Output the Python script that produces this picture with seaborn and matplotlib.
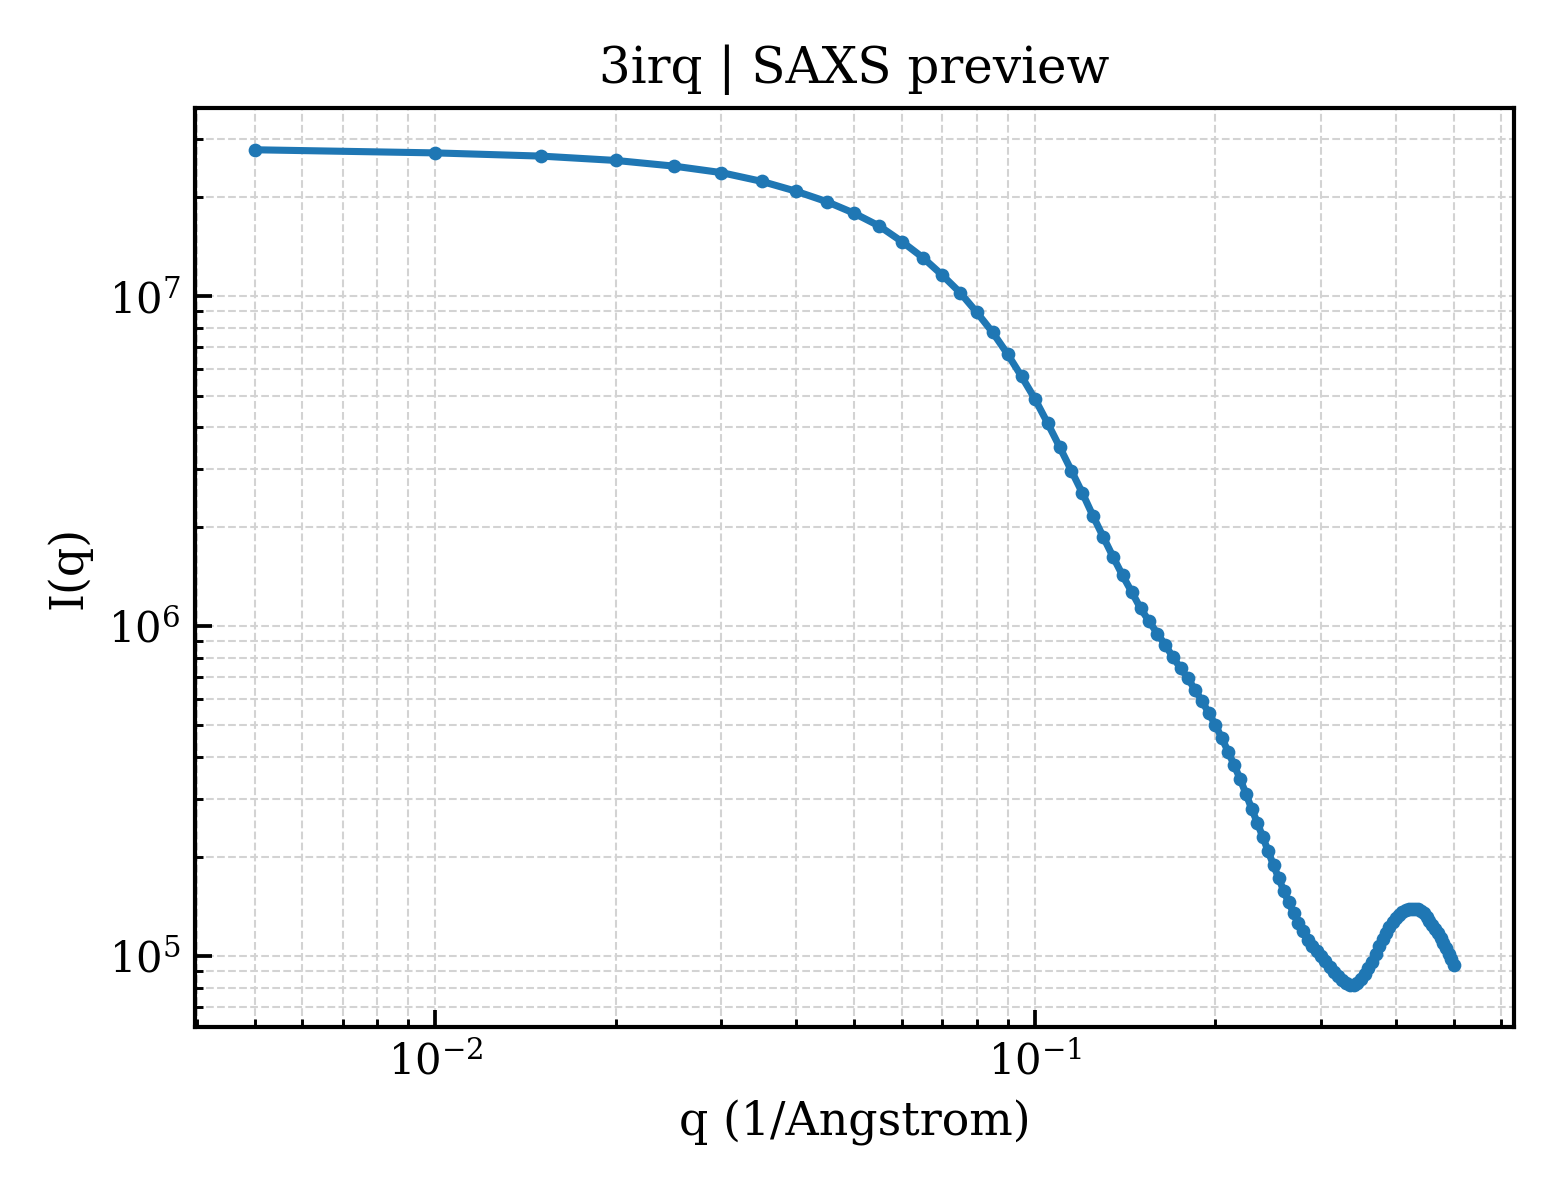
import numpy as np
import pandas as pd
import matplotlib
matplotlib.use("Agg")
import matplotlib.pyplot as plt
import seaborn as sns

# ---- data ----
q_values = [
    0.005, 0.010, 0.015, 0.020, 0.025, 0.030, 0.035, 0.040, 0.045, 0.050,
    0.055, 0.060, 0.065, 0.070, 0.075, 0.080, 0.085, 0.090, 0.095, 0.100,
    0.105, 0.110, 0.115, 0.120, 0.125, 0.130, 0.135, 0.140, 0.145, 0.150,
    0.155, 0.160, 0.165, 0.170, 0.175, 0.180, 0.185, 0.190, 0.195, 0.200,
    0.205, 0.210, 0.215, 0.220, 0.225, 0.230, 0.235, 0.240, 0.245, 0.250,
    0.255, 0.260, 0.265, 0.270, 0.275, 0.280, 0.285, 0.290, 0.295, 0.300,
    0.305, 0.310, 0.315, 0.320, 0.325, 0.330, 0.335, 0.340, 0.345, 0.350,
    0.355, 0.360, 0.365, 0.370, 0.375, 0.380, 0.385, 0.390, 0.395, 0.400,
    0.405, 0.410, 0.415, 0.420, 0.425, 0.430, 0.435, 0.440, 0.445, 0.450,
    0.455, 0.460, 0.465, 0.470, 0.475, 0.480, 0.485, 0.490, 0.495, 0.500,
]
intensity = [
    2.78e7, 2.72e7, 2.66e7, 2.58e7, 2.48e7, 2.37e7, 2.23e7, 2.08e7, 1.934e7, 1.783e7,
    1.632e7, 1.464e7, 1.31e7, 1.16e7, 1.026e7, 8.93e6, 7.77e6, 6.68e6, 5.71e6, 4.88e6,
    4.12e6, 3.485e6, 2.96e6, 2.53e6, 2.155e6, 1.862e6, 1.62e6, 1.424e6, 1.269e6, 1.132e6,
    1.034e6, 9.49e5, 8.75e5, 8.03e5, 7.44e5, 6.94e5, 6.39e5, 5.92e5, 5.44e5, 5.01e5,
    4.57e5, 4.16e5, 3.78e5, 3.43e5, 3.09e5, 2.785e5, 2.527e5, 2.287e5, 2.074e5, 1.881e5,
    1.722e5, 1.573e5, 1.452e5, 1.349e5, 1.259e5, 1.188e5, 1.12e5, 1.072e5, 1.034e5, 9.97e4,
    9.62e4, 9.28e4, 8.96e4, 8.70e4, 8.47e4, 8.30e4, 8.17e4, 8.15e4, 8.26e4, 8.49e4,
    8.83e4, 9.22e4, 9.60e4, 1.014e5, 1.072e5, 1.126e5, 1.176e5, 1.224e5, 1.267e5, 1.303e5,
    1.331e5, 1.357e5, 1.375e5, 1.386e5, 1.392e5, 1.390e5, 1.383e5, 1.365e5, 1.345e5, 1.315e5,
    1.278e5, 1.241e5, 1.207e5, 1.172e5, 1.136e5, 1.095e5, 1.057e5, 1.016e5, 9.77e4, 9.39e4,
]
title_text = "3irq | SAXS preview"
x_label = "q (1/Angstrom)"
y_label = "I(q)"

df = pd.DataFrame({"q": q_values, "I": intensity})

sns.set_style("white")
plt.rcParams["font.family"] = ["DejaVu Serif"]
plt.rcParams["mathtext.fontset"] = "dejavuserif"
plt.rcParams["text.color"] = "black"
plt.rcParams["axes.labelcolor"] = "black"
plt.rcParams["xtick.color"] = "black"
plt.rcParams["ytick.color"] = "black"

fig = plt.figure(figsize=(5.2, 4.0), dpi=300)
ax = fig.add_axes([0.125, 0.1442, 0.8455, 0.7658])

sns.lineplot(data=df, x="q", y="I", ax=ax, color="#1f77b4", linewidth=1.7,
             marker="o", markersize=3.3, markeredgewidth=0)

ax.set_xscale("log")
ax.set_yscale("log")
ax.margins(0.05)

ax.grid(True, which="both", linestyle="--", linewidth=0.5, color="#d3d3d3")
ax.set_axisbelow(True)

for s in ax.spines.values():
    s.set_linewidth(1.0)
    s.set_color("black")
ax.tick_params(which="both", direction="in", top=False, right=False,
               bottom=True, left=True, colors="black", labelcolor="black",
               labelsize=10)
ax.tick_params(which="major", length=4, width=0.9)
ax.tick_params(which="minor", length=2, width=0.7)

ax.set_title(title_text, fontsize=12, color="black")
ax.set_xlabel(x_label, fontsize=11, color="black")
ax.set_ylabel(y_label, fontsize=11, color="black")

fig.savefig("out.png", dpi=300)
